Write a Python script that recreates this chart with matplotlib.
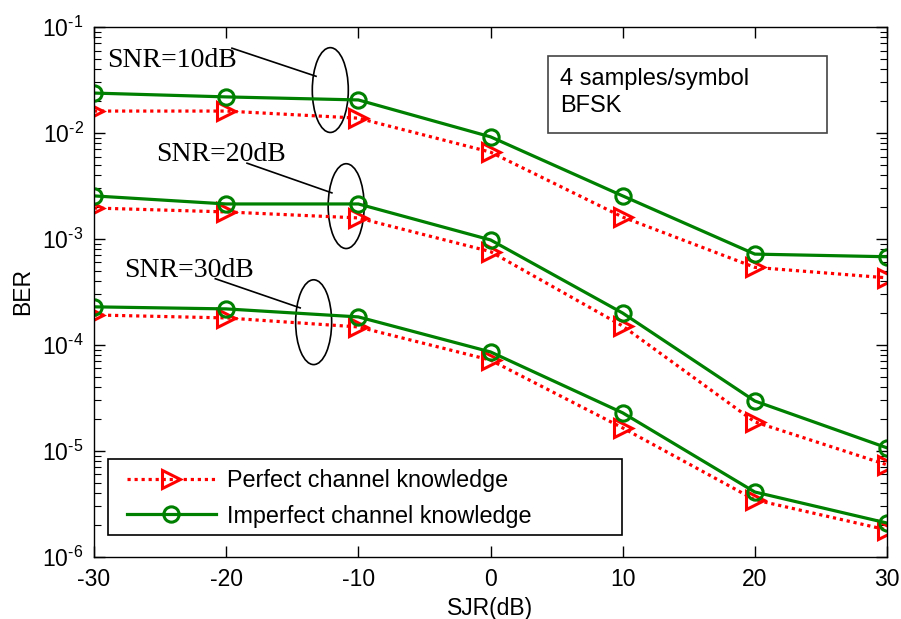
import matplotlib
matplotlib.use("Agg")
import matplotlib.pyplot as plt
from matplotlib.patches import Ellipse, Rectangle
from matplotlib.ticker import FuncFormatter, LogLocator
import numpy as np

plt.rcParams['font.family'] = ['Liberation Sans', 'DejaVu Sans']
plt.rcParams['mathtext.fontset'] = 'custom'
plt.rcParams['mathtext.rm'] = 'Liberation Sans'
plt.rcParams['mathtext.it'] = 'Liberation Sans:italic'
plt.rcParams['mathtext.bf'] = 'Liberation Sans:bold'

# SJR sweep (dB)
sjr = [-30, -20, -10, 0, 10, 20, 30]

# BER with perfect channel knowledge
perfect_snr10 = [1.61e-2, 1.61e-2, 1.38e-2, 6.6e-3, 1.61e-3, 5.4e-4, 4.3e-4]
perfect_snr20 = [1.96e-3, 1.80e-3, 1.58e-3, 7.6e-4, 1.51e-4, 1.88e-5, 7.4e-6]
perfect_snr30 = [1.92e-4, 1.80e-4, 1.48e-4, 7.2e-5, 1.65e-5, 3.46e-6, 1.80e-6]

# BER with imperfect channel knowledge
imperfect_snr10 = [2.38e-2, 2.19e-2, 2.05e-2, 9.2e-3, 2.55e-3, 7.2e-4, 6.8e-4]
imperfect_snr20 = [2.55e-3, 2.14e-3, 2.14e-3, 9.8e-4, 2.0e-4, 2.96e-5, 1.07e-5]
imperfect_snr30 = [2.29e-4, 2.19e-4, 1.84e-4, 8.6e-5, 2.29e-5, 4.1e-6, 2.09e-6]

x_ticks = [-30, -20, -10, 0, 10, 20, 30]
series_labels = ["Perfect channel knowledge", "Imperfect channel knowledge"]
snr_labels = ["SNR=10dB", "SNR=20dB", "SNR=30dB"]

red = "#ff0000"
green = "#008000"

fig = plt.figure(figsize=(9.01, 6.19), dpi=100)
ax = fig.add_axes([0.1043, 0.1002, 0.8802, 0.8562])

perfect_style = dict(color=red, linestyle=(0, (1, 1.2)), linewidth=2.3, marker='>',
                     markersize=13, markerfacecolor='none', markeredgewidth=2.2)
imperfect_style = dict(color=green, linestyle='-', linewidth=2.3, marker='o',
                       markersize=11, markerfacecolor='none', markeredgewidth=2.2)

for k, (p, q) in enumerate([(perfect_snr10, imperfect_snr10),
                            (perfect_snr20, imperfect_snr20),
                            (perfect_snr30, imperfect_snr30)]):
    ax.plot(sjr, p, label=series_labels[0] if k == 0 else None, **perfect_style)
    ax.plot(sjr, q, label=series_labels[1] if k == 0 else None, **imperfect_style)

ax.set_yscale('log')
ax.set_xlim(-30, 30)
ax.set_ylim(1e-6, 1e-1)
ax.set_xticks(x_ticks)
ax.set_xticklabels([str(t) for t in x_ticks])
ax.yaxis.set_major_locator(LogLocator(base=10))


def decade_label(v, pos):
    e = int(round(np.log10(v)))
    sign = r"\text{-}" if e < 0 else ""
    return r"$10^{%s%d}$" % (sign, abs(e))


ax.yaxis.set_major_formatter(FuncFormatter(decade_label))

ax.tick_params(axis='both', which='both', direction='in', top=True, right=True,
               labelsize=16.5)
ax.tick_params(axis='x', which='major', pad=8)
ax.tick_params(axis='y', which='major', pad=7.5)
ax.tick_params(axis='both', which='major', length=8, width=1)
ax.tick_params(axis='y', which='minor', length=5, width=0.8)
for s in ax.spines.values():
    s.set_linewidth(1.0)

ax.set_xlabel("SJR(dB)", fontsize=16.5, labelpad=4)
ax.set_ylabel("BER", fontsize=16.5)
ax.yaxis.set_label_coords(-0.0757, 0.5)

# SNR group annotations: label, leader line, and ellipse around the curve pair
times = ['Liberation Serif', 'DejaVu Serif']
groups = [
    dict(text=(0.016, 0.937), line=((0.174, 0.960), (0.280, 0.907)), ell=(0.298, 0.881)),
    dict(text=(0.078, 0.759), line=((0.193, 0.743), (0.300, 0.687)), ell=(0.318, 0.662)),
    dict(text=(0.038, 0.540), line=((0.153, 0.525), (0.260, 0.470)), ell=(0.277, 0.443)),
]
for lab, g in zip(snr_labels, groups):
    ax.text(g['text'][0], g['text'][1], lab, transform=ax.transAxes, fontsize=20,
            family=times, ha='left', va='center')
    (x0, y0), (x1, y1) = g['line']
    ax.plot([x0, x1], [y0, y1], transform=ax.transAxes, color='black', linewidth=1.2)
    ax.add_patch(Ellipse(g['ell'], 0.0454, 0.160, transform=ax.transAxes,
                         fill=False, edgecolor='black', linewidth=1.2))

# Simulation settings box
ax.add_patch(Rectangle((0.572, 0.800), 0.352, 0.145, transform=ax.transAxes,
                       fill=True, facecolor='white', edgecolor='#444444', linewidth=1.2))
ax.text(0.588, 0.902, "4 samples/symbol", transform=ax.transAxes, fontsize=17,
        ha='left', va='center')
ax.text(0.588, 0.851, "BFSK", transform=ax.transAxes, fontsize=17,
        ha='left', va='center')

# Legend: frame drawn as its own rectangle, entries placed inside it
ax.add_patch(Rectangle((0.0177, 0.0415), 0.648, 0.1435, transform=ax.transAxes,
                       fill=True, facecolor='white', edgecolor='black',
                       linewidth=1.2, zorder=4))
leg = ax.legend(loc='center left', bbox_to_anchor=(0.0416, 0.111), borderaxespad=0,
                fontsize=16.8, numpoints=1, handlelength=3.8, handletextpad=0.5,
                frameon=False, labelspacing=0.55, borderpad=0)
leg.set_zorder(5)

fig.savefig("out.png", dpi=100)
